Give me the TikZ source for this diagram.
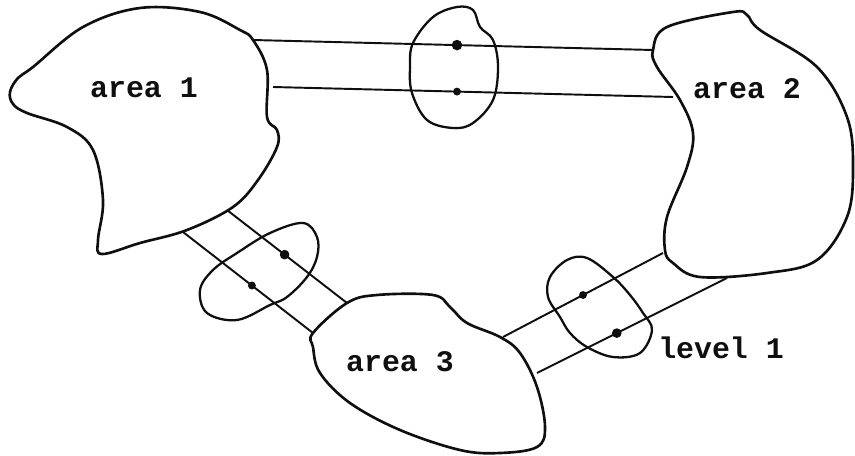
\documentclass[tikz,border=0pt]{standalone}
\usepackage{fontspec}
\setmonofont{Liberation Mono}
\usetikzlibrary{calc}
\definecolor{ink}{RGB}{15,15,15}

\begin{document}
\begin{tikzpicture}[x=0.02cm, y=-0.02cm,
    every node/.style={font=\ttfamily\bfseries\fontsize{17}{20}\selectfont, text=ink},
    blob/.style={draw=ink, line width=1.5pt, line join=round},
    link/.style={draw=ink, line width=1.1pt},
    dot/.style={circle, fill=ink, inner sep=0pt, minimum size=4.5pt}]
  \useasboundingbox (0,0) rectangle (855,456);

  % the three areas
  \draw[blob] plot[smooth cycle, tension=0.6] coordinates {(253,40) (267,70) (267,117) (277,130) (277,147) (258,180) (233,207) (187,230) (140,243) (102,254) (98,240) (103,200) (93,150) (67,127) (27,113) (13,104) (10,92) (18,78) (33,67) (83,27) (140,8) (200,12) (240,30)};
  \draw[blob] plot[smooth cycle, tension=0.6] coordinates {(653,50) (667,27) (733,12) (747,15) (760,30) (817,67) (847,117) (853,167) (847,217) (817,260) (767,273) (700,277) (673,263) (665,250) (667,217) (687,167) (693,133) (680,100) (657,67)};
  \draw[blob] plot[smooth cycle, tension=0.6] coordinates {(313,333) (347,303) (377,295) (433,295) (450,307) (467,323) (500,337) (520,353) (537,387) (545,427) (537,447) (500,453) (460,450) (400,430) (350,403) (320,373) (313,347)};

  \node (area1) at (144,88) {area 1};
  \node (area2) at (747,89) {area 2};
  \node (area3) at (400,362) {area 3};

  % ends of the level 1 links
  \coordinate (a1n) at (253,40);
  \coordinate (a1s) at (273,87);
  \coordinate (a2n) at (653,50);
  \coordinate (a2s) at (673,97);
  \coordinate (a1e) at (227,210);
  \coordinate (a1w) at (183,232);
  \coordinate (a3n) at (347,303);
  \coordinate (a3w) at (313,333);
  \coordinate (a3e) at (503,337);
  \coordinate (a3s) at (537,373);
  \coordinate (a2w) at (663,253);
  \coordinate (a2b) at (727,278);

  \draw[link] (a1n) -- node[dot, pos=0.51, minimum size=6pt] (d1) {} (a2n);
  \draw[link] (a1s) -- node[dot, pos=0.46] (d2) {} (a2s);
  \draw[link] (a1e) -- node[dot, pos=0.48, minimum size=5.5pt] (d3) {} (a3n);
  \draw[link] (a1w) -- node[dot, pos=0.53] (d4) {} (a3w);
  \draw[link] (a3e) -- node[dot, pos=0.5] (d5) {} (a2w);
  \draw[link] (a3s) -- node[dot, pos=0.42, minimum size=5.5pt] (d6) {} (a2b);

  % the rings round each link
  \draw[blob, line width=1.3pt] plot[smooth cycle, tension=0.6] coordinates {(413,43) (433,17) (457,7) (473,10) (480,27) (493,40) (498,67) (493,100) (473,123) (453,128) (427,120) (412,93) (410,67)};
  \draw[blob, line width=1.3pt] plot[smooth cycle, tension=0.6] coordinates {(200,290) (213,270) (237,253) (270,233) (303,223) (317,237) (317,257) (307,277) (287,297) (270,305) (237,320) (207,313)};
  \draw[blob, line width=1.3pt] plot[smooth cycle, tension=0.6] coordinates {(548,297) (550,277) (567,260) (587,258) (613,277) (630,295) (643,313) (652,330) (640,353) (613,357) (587,347) (570,333) (560,317)};

  \node (lev) at (721,348) {level 1};
\end{tikzpicture}
\end{document}
